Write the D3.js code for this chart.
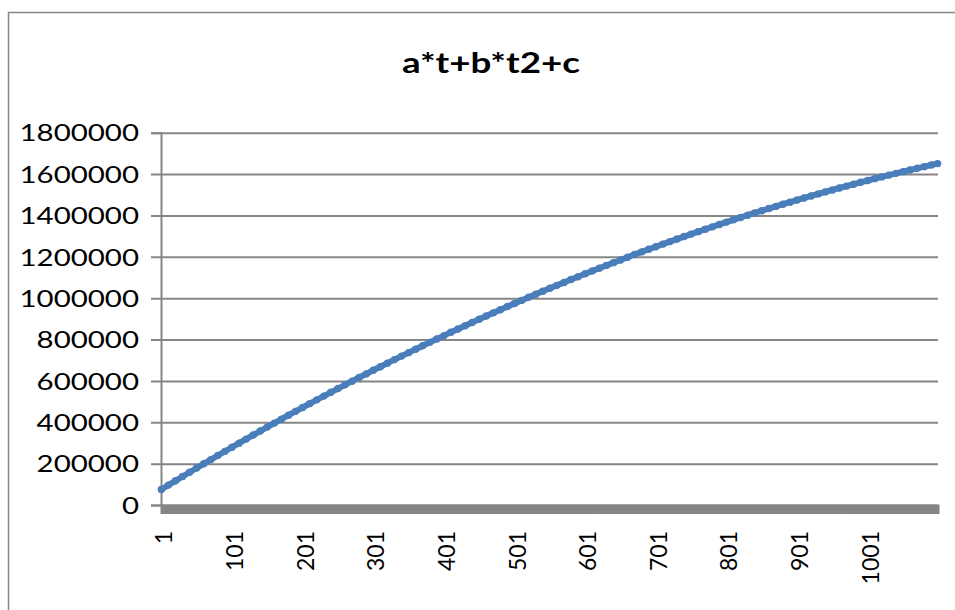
<!DOCTYPE html>
<html><head><meta charset="utf-8">
<script src="https://cdn.jsdelivr.net/npm/d3@7"></script>
<style>
body{margin:0;background:#fff}
svg{display:block}
text{font-family:Lato,"Open Sans",sans-serif;fill:#000}
</style>
</head><body>
<svg id="c" width="955" height="610"></svg>
<script>
const chartTitle = "a*t+b*t2+c";
const categoryCount = 1100;
// sampled category indices (every 10th category, plus the last)
const sampleT = [1,11,21,31,41,51,61,71,81,91,101,111,121,131,141,151,161,171,181,191,201,211,221,231,241,251,261,271,281,291,301,311,321,331,341,351,361,371,381,391,401,411,421,431,441,451,461,471,481,491,501,511,521,531,541,551,561,571,581,591,601,611,621,631,641,651,661,671,681,691,701,711,721,731,741,751,761,771,781,791,801,811,821,831,841,851,861,871,881,891,901,911,921,931,941,951,961,971,981,991,1001,1011,1021,1031,1041,1051,1061,1071,1081,1091,1100];
const seriesValues = [75100,96100,116900,137700,158300,178700,199100,219400,239500,259500,279300,299100,318700,338200,357600,376900,396000,415100,434000,452700,471400,489900,508400,526600,544800,562900,580800,598600,616300,633800,651300,668600,685800,702900,719800,736600,753300,769900,786400,802700,818900,835000,851000,866900,882600,898200,913700,929100,944300,959400,974400,989300,1004100,1018700,1033200,1047600,1061900,1076000,1090000,1103900,1117700,1131400,1144900,1158300,1171600,1184800,1197900,1210800,1223600,1236300,1248800,1261300,1273600,1285800,1297900,1309800,1321600,1333300,1344900,1356400,1367700,1379000,1390100,1401000,1411900,1422600,1433200,1443700,1454100,1464300,1474500,1484500,1494300,1504100,1513700,1523300,1532600,1541900,1551100,1560100,1569000,1577800,1586400,1595000,1603400,1611700,1619900,1627900,1635800,1643600,1650700];
const yTickValues = [0,200000,400000,600000,800000,1000000,1200000,1400000,1600000,1800000];
const xTickLabels = ["1","101","201","301","401","501","601","701","801","901","1001"];

const svg = d3.select("#c");
const gray = "#868686";
const blue = "#4a7ebb";
const L = 161, R = 938, T = 132.7, B = 505;

// outer chart border
svg.append("rect").attr("x",8.5).attr("y",12.5).attr("width",1000).attr("height",700)
  .attr("fill","#fff").attr("stroke",gray).attr("stroke-width",1.5);

// title
svg.append("text").attr("x",491).attr("y",73).attr("text-anchor","middle")
  .attr("font-weight","bold").attr("font-size",29)
  .attr("textLength",178).attr("lengthAdjust","spacingAndGlyphs")
  .text(chartTitle);

const x = d3.scaleLinear().domain([0.5, categoryCount + 0.5]).range([L, R]);
const y = d3.scaleLinear().domain([0, 1800000]).range([B, T]);

// gridlines + y ticks
const yAxis = d3.axisLeft(y).tickValues(yTickValues).tickSize(10).tickPadding(12).tickFormat(d3.format("d"));
const gy = svg.append("g").attr("transform",`translate(${L},0)`).call(yAxis);
gy.select(".domain").attr("stroke",gray).attr("stroke-width",2);
gy.selectAll(".tick line").attr("stroke",gray).attr("stroke-width",2).attr("x2", R - L).attr("x1",-10);
gy.selectAll(".tick text").attr("font-size",23).attr("font-family","Lato").attr("fill","#000")
  .attr("x",null).attr("dy","0.36em")
  .attr("transform","translate(-22,0) scale(1.28,1)");

// x axis: a tick at every category (dense band) + labels every 100
const xAxis = d3.axisBottom(x).tickValues(d3.range(1, categoryCount + 1)).tickSize(9).tickFormat("");
const gx = svg.append("g").attr("transform",`translate(0,${B})`).call(xAxis);
gx.select(".domain").attr("stroke",gray).attr("stroke-width",2);
gx.selectAll(".tick line").attr("stroke",gray).attr("stroke-width",1.6);

const gl = svg.append("g");
gl.selectAll("text").data(xTickLabels).join("text")
  .attr("transform", d => `translate(${x(+d) + 2.7},${B + 26}) rotate(-90)`)
  .attr("text-anchor","end").attr("dy","0.36em").attr("font-size",23)
  .text(d => d);

// series
const pts = sampleT.map((t,i) => [t, seriesValues[i]]);
svg.append("path").datum(pts)
  .attr("fill","none").attr("stroke",blue).attr("stroke-width",6).attr("stroke-linejoin","round")
  .attr("d", d3.line().x(d => x(d[0])).y(d => y(d[1])));
svg.append("g").selectAll("circle").data(pts).join("circle")
  .attr("cx", d => x(d[0])).attr("cy", d => y(d[1])).attr("r",3.7).attr("fill",blue);
</script>
</body></html>
